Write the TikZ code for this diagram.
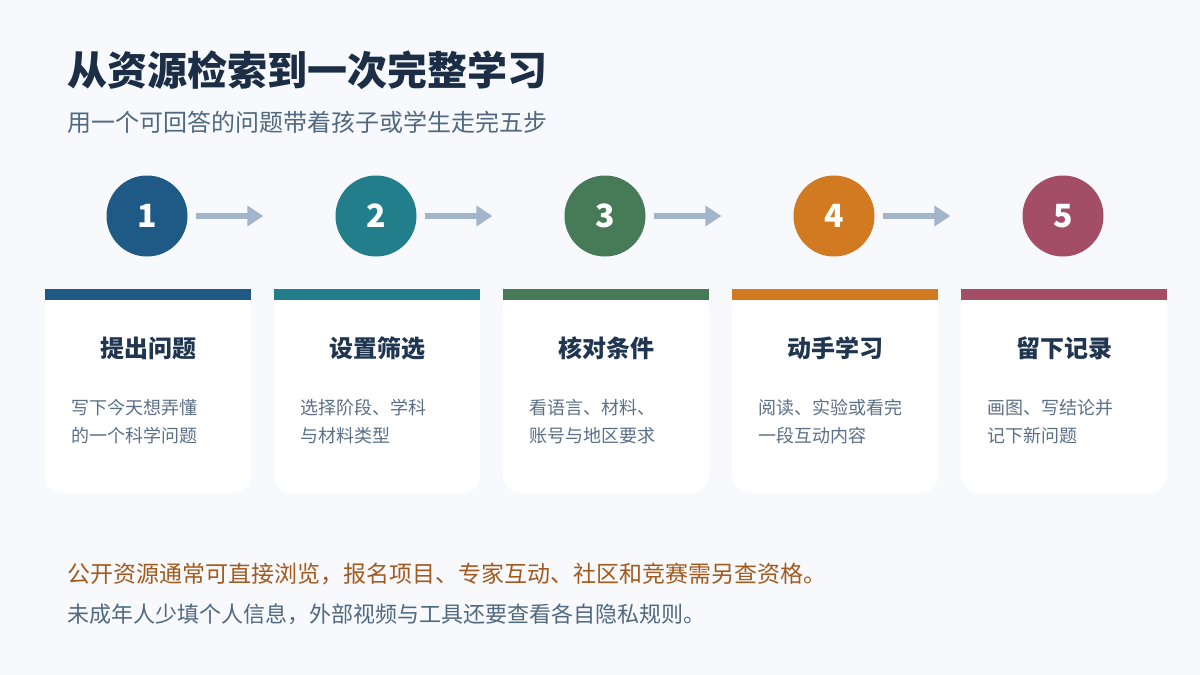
\documentclass[tikz,border=0pt]{standalone}
\usepackage{fontspec}
\setmainfont{Noto Sans CJK SC}
\usepackage{tikz}
\usetikzlibrary{arrows.meta, positioning, backgrounds}

\definecolor{pagebg}{HTML}{F7F9FC}
\definecolor{titleink}{HTML}{1B2E45}
\definecolor{subink}{HTML}{506880}
\definecolor{headink}{HTML}{1F3550}
\definecolor{descink}{HTML}{5B7087}
\definecolor{noteink}{HTML}{A35A1E}
\definecolor{flowink}{HTML}{A3B5CA}
\definecolor{stepA}{HTML}{1F5A86}
\definecolor{stepB}{HTML}{237E8C}
\definecolor{stepC}{HTML}{477A57}
\definecolor{stepD}{HTML}{D27A22}
\definecolor{stepE}{HTML}{A34D66}

\tikzset{
    stepdot/.style={circle, minimum size=81pt, inner sep=0pt, text=white,
        font=\fontsize{32}{32}\selectfont\bfseries},
    flow/.style={-{Triangle[length=16pt,width=20pt]}, flowink, line width=6pt},
    cardbody/.style={fill=white, rounded corners=18pt},
    stephead/.style={font=\fontsize{24}{24}\selectfont\bfseries, text=headink, inner sep=0pt},
    stepdesc/.style={font=\fontsize{18}{28}\selectfont, text=descink, align=left,
        anchor=west, inner sep=0pt}
}

\begin{document}
\begin{tikzpicture}[x=1pt, y=-1pt]
    % Page
    \fill[pagebg] (0,0) rectangle (1200,675);
    \useasboundingbox (0,0) rectangle (1200,675);

    % Title
    \node[anchor=west, inner sep=0pt, text=titleink, font=\fontsize{40}{40}\selectfont\bfseries]
        (title) at (67,70) {从资源检索到一次完整学习};
    \node[anchor=west, inner sep=0pt, text=subink, font=\fontsize{24}{24}\selectfont]
        (subtitle) at (67,122) {用一个可回答的问题带着孩子或学生走完五步};

    % Step circles
    \node[stepdot, fill=stepA] (c1) at (147,216) {1};
    \node[stepdot, fill=stepB] (c2) at (376,216) {2};
    \node[stepdot, fill=stepC] (c3) at (605,216) {3};
    \node[stepdot, fill=stepD] (c4) at (834,216) {4};
    \node[stepdot, fill=stepE] (c5) at (1063,216) {5};

    % Arrows between steps
    \draw[flow] ([xshift=8pt]c1.east) -- ([xshift=-72pt]c2.west);
    \draw[flow] ([xshift=8pt]c2.east) -- ([xshift=-72pt]c3.west);
    \draw[flow] ([xshift=8pt]c3.east) -- ([xshift=-72pt]c4.west);
    \draw[flow] ([xshift=8pt]c4.east) -- ([xshift=-72pt]c5.west);

    % Cards
    \fill[cardbody] (45,290) rectangle (251,493);
    \fill[cardbody] (274,290) rectangle (480,493);
    \fill[cardbody] (503,290) rectangle (709,493);
    \fill[cardbody] (732,290) rectangle (938,493);
    \fill[cardbody] (961,290) rectangle (1167,493);

    % Colour bars on top of the cards
    \fill[stepA] (45,289) rectangle (251,300);
    \fill[stepB] (274,289) rectangle (480,300);
    \fill[stepC] (503,289) rectangle (709,300);
    \fill[stepD] (732,289) rectangle (938,300);
    \fill[stepE] (961,289) rectangle (1167,300);

    % Card headings
    \node[stephead] (h1) at (148,348) {提出问题};
    \node[stephead] (h2) at (377,348) {设置筛选};
    \node[stephead] (h3) at (606,348) {核对条件};
    \node[stephead] (h4) at (835,348) {动手学习};
    \node[stephead] (h5) at (1064,348) {留下记录};

    % Card texts
    \node[stepdesc] (d1) at (71,422) {写下今天想弄懂\\的一个科学问题};
    \node[stepdesc] (d2) at (300,422) {选择阶段、学科\\与材料类型};
    \node[stepdesc] (d3) at (529,422) {看语言、材料、\\账号与地区要求};
    \node[stepdesc] (d4) at (758,422) {阅读、实验或看完\\一段互动内容};
    \node[stepdesc] (d5) at (987,422) {画图、写结论并\\记下新问题};

    % Notes
    \node[anchor=west, inner sep=0pt, text=noteink, font=\fontsize{23}{23}\selectfont]
        (note1) at (67,574) {公开资源通常可直接浏览，报名项目、专家互动、社区和竞赛需另查资格。};
    \node[anchor=west, inner sep=0pt, text=subink, font=\fontsize{22}{22}\selectfont]
        (note2) at (67,614) {未成年人少填个人信息，外部视频与工具还要查看各自隐私规则。};
\end{tikzpicture}
\end{document}
